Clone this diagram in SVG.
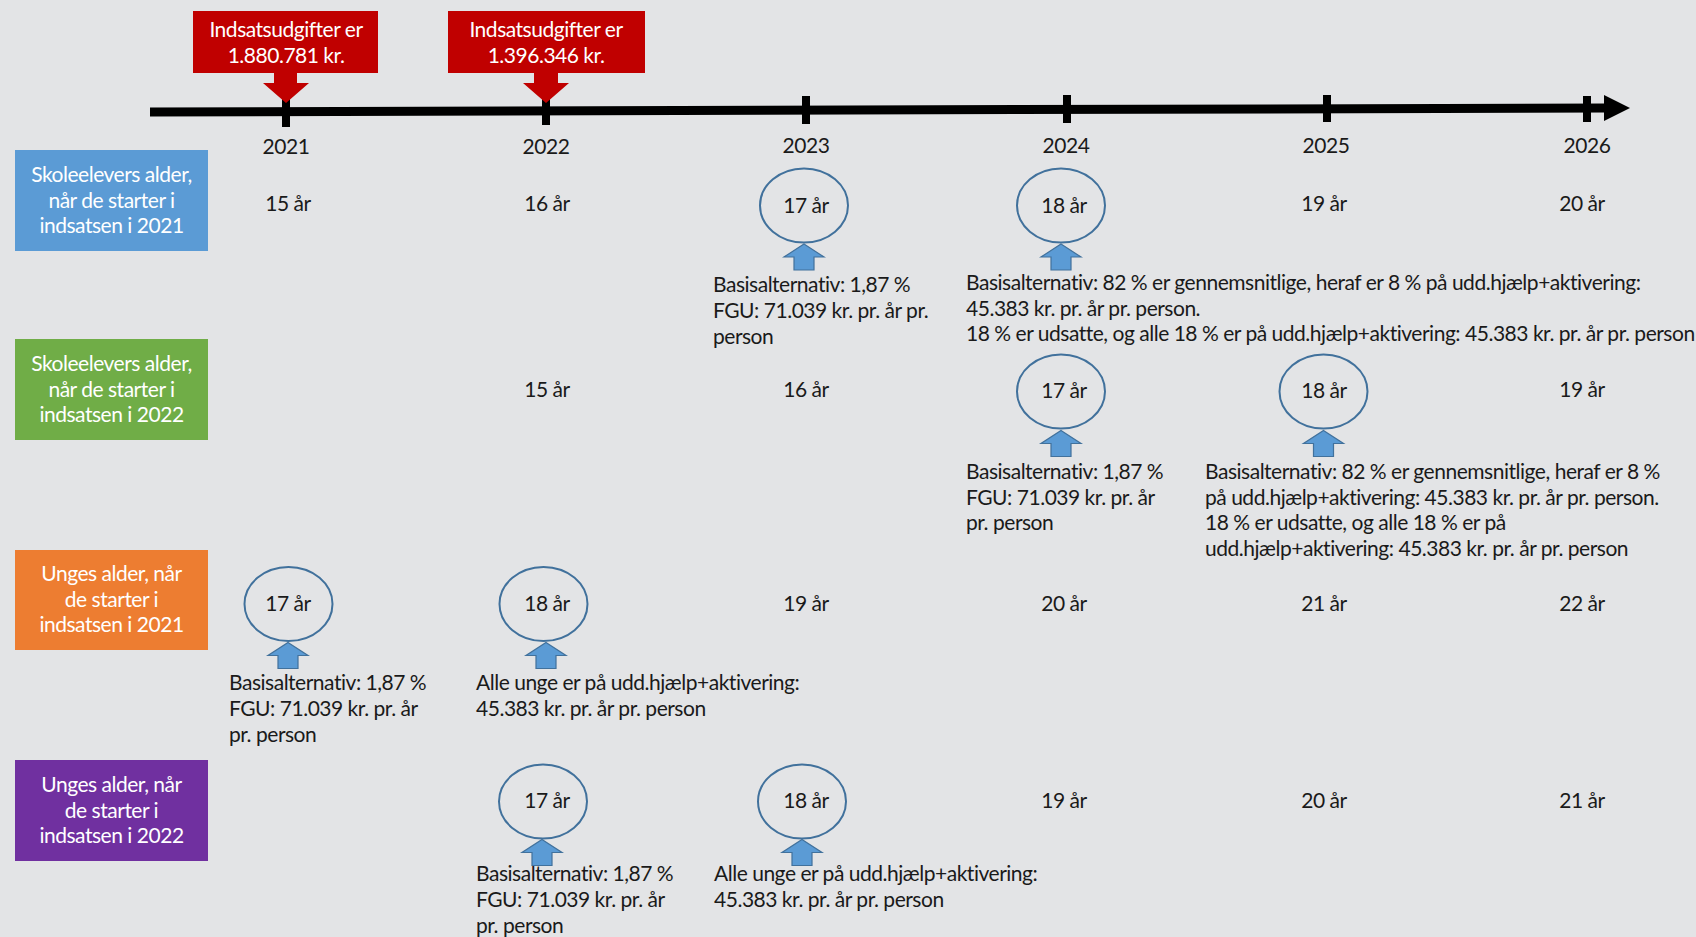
<svg xmlns="http://www.w3.org/2000/svg" width="1696" height="937" viewBox="0 0 1696 937">
  <defs>
    <style>
      .t { font-family: Lato, "Liberation Sans", sans-serif; font-size: 21px; letter-spacing: -0.48px; fill: #1a1a1a; }
      .c { text-anchor: middle; }
      .w { fill: #ffffff; }
      .ring { fill: none; stroke: #41719C; stroke-width: 2; }
      .up { fill: #5B9BD5; stroke: #41719C; stroke-width: 1.2; }
      .call { fill: #C00000; }
    </style>
    <path id="uparrow" class="up" d="M0,0 L20,13 L10,13 L10,26 L-10,26 L-10,13 L-20,13 Z"/>
  </defs>

  <rect width="1696" height="937" fill="#E3E4E6"/>

  <!-- time axis -->
  <g id="axis">
    <line x1="150" y1="112" x2="1606" y2="108" stroke="#000" stroke-width="9"/>
    <polygon points="1604,95 1630,108 1604,121" fill="#000"/>
    <rect x="282" y="96" width="8" height="31" fill="#000"/>
    <rect x="542" y="96" width="8" height="29" fill="#000"/>
    <rect x="802" y="96" width="8" height="28" fill="#000"/>
    <rect x="1063" y="95" width="8" height="28" fill="#000"/>
    <rect x="1323" y="95" width="8" height="27" fill="#000"/>
    <rect x="1583" y="96" width="8" height="26" fill="#000"/>
    <g class="t c">
      <text x="286" y="154">2021</text>
      <text x="546" y="154">2022</text>
      <text x="806" y="153">2023</text>
      <text x="1066" y="153">2024</text>
      <text x="1326" y="153">2025</text>
      <text x="1587" y="153">2026</text>
    </g>
  </g>

  <!-- cost callouts -->
  <g id="callout-2021">
    <path class="call" d="M193,11 H378 V73 H297 V83 H309 L286,103 L263,83 H274 V73 H193 Z"/>
    <text class="t c w" x="286" y="37">Indsatsudgifter er</text>
    <text class="t c w" x="286" y="63">1.880.781 kr.</text>
  </g>
  <g id="callout-2022">
    <path class="call" d="M448,11 H645 V73 H558 V83 H569 L546,103 L523,83 H534 V73 H448 Z"/>
    <text class="t c w" x="546" y="37">Indsatsudgifter er</text>
    <text class="t c w" x="546" y="63">1.396.346 kr.</text>
  </g>

  <!-- row labels -->
  <g id="label-skole-2021">
    <rect x="15" y="150" width="193" height="101" fill="#5B9BD5"/>
    <text class="t c w" x="111.5" y="182">Skoleelevers alder,</text>
    <text class="t c w" x="111.5" y="208">når de starter i</text>
    <text class="t c w" x="111.5" y="233">indsatsen i 2021</text>
  </g>
  <g id="label-skole-2022">
    <rect x="15" y="339" width="193" height="101" fill="#70AD47"/>
    <text class="t c w" x="111.5" y="371">Skoleelevers alder,</text>
    <text class="t c w" x="111.5" y="397">når de starter i</text>
    <text class="t c w" x="111.5" y="422">indsatsen i 2022</text>
  </g>
  <g id="label-unge-2021">
    <rect x="15" y="550" width="193" height="100" fill="#ED7D31"/>
    <text class="t c w" x="111.5" y="581">Unges alder, når</text>
    <text class="t c w" x="111.5" y="607">de starter i</text>
    <text class="t c w" x="111.5" y="632">indsatsen i 2021</text>
  </g>
  <g id="label-unge-2022">
    <rect x="15" y="760" width="193" height="101" fill="#7030A0"/>
    <text class="t c w" x="111.5" y="792">Unges alder, når</text>
    <text class="t c w" x="111.5" y="818">de starter i</text>
    <text class="t c w" x="111.5" y="843">indsatsen i 2022</text>
  </g>

  <!-- row 1: pupils starting 2021 -->
  <g id="row-skole-2021" class="t c">
    <text x="288" y="211">15 år</text>
    <text x="547" y="211">16 år</text>
    <text x="1324" y="211">19 år</text>
    <text x="1582" y="211">20 år</text>
  </g>
  <g id="age-skole21-17">
    <ellipse class="ring" cx="804" cy="205.5" rx="44" ry="37"/>
    <text class="t c" x="806" y="213">17 år</text>
  </g>
  <g id="age-skole21-18">
    <ellipse class="ring" cx="1061" cy="205.5" rx="44" ry="37"/>
    <text class="t c" x="1064" y="213">18 år</text>
  </g>
  <g id="note-skole21-17" class="t">
    <text x="713" y="292">Basisalternativ: 1,87 %</text>
    <text x="713" y="318">FGU: 71.039 kr. pr. år pr.</text>
    <text x="713" y="344">person</text>
  </g>
  <g id="note-skole21-18" class="t">
    <text x="966" y="290">Basisalternativ: 82 % er gennemsnitlige, heraf er 8 % på udd.hjælp+aktivering:</text>
    <text x="966" y="316">45.383 kr. pr. år pr. person.</text>
    <text x="966" y="341">18 % er udsatte, og alle 18 % er på udd.hjælp+aktivering: 45.383 kr. pr. år pr. person</text>
  </g>

  <!-- row 2: pupils starting 2022 -->
  <g id="row-skole-2022" class="t c">
    <text x="547" y="397">15 år</text>
    <text x="806" y="397">16 år</text>
    <text x="1582" y="397">19 år</text>
  </g>
  <g id="age-skole22-17">
    <ellipse class="ring" cx="1061" cy="391.5" rx="44" ry="37"/>
    <text class="t c" x="1064" y="398">17 år</text>
  </g>
  <g id="age-skole22-18">
    <ellipse class="ring" cx="1323.5" cy="391.5" rx="44" ry="37"/>
    <text class="t c" x="1324" y="398">18 år</text>
  </g>
  <g id="note-skole22-17" class="t">
    <text x="966" y="479">Basisalternativ: 1,87 %</text>
    <text x="966" y="505">FGU: 71.039 kr. pr. år</text>
    <text x="966" y="530">pr. person</text>
  </g>
  <g id="note-skole22-18" class="t">
    <text x="1205" y="479">Basisalternativ: 82 % er gennemsnitlige, heraf er 8 %</text>
    <text x="1205" y="505">på udd.hjælp+aktivering: 45.383 kr. pr. år pr. person.</text>
    <text x="1205" y="530">18 % er udsatte, og alle 18 % er på</text>
    <text x="1205" y="556">udd.hjælp+aktivering: 45.383 kr. pr. år pr. person</text>
  </g>

  <!-- row 3: young people starting 2021 -->
  <g id="row-unge-2021" class="t c">
    <text x="806" y="611">19 år</text>
    <text x="1064" y="611">20 år</text>
    <text x="1324" y="611">21 år</text>
    <text x="1582" y="611">22 år</text>
  </g>
  <g id="age-unge21-17">
    <ellipse class="ring" cx="288.5" cy="604" rx="44" ry="37"/>
    <text class="t c" x="288" y="611">17 år</text>
  </g>
  <g id="age-unge21-18">
    <ellipse class="ring" cx="543.5" cy="604" rx="44" ry="37"/>
    <text class="t c" x="547" y="611">18 år</text>
  </g>
  <g id="note-unge21-17" class="t">
    <text x="229" y="690">Basisalternativ: 1,87 %</text>
    <text x="229" y="716">FGU: 71.039 kr. pr. år</text>
    <text x="229" y="742">pr. person</text>
  </g>
  <g id="note-unge21-18" class="t">
    <text x="476" y="690">Alle unge er på udd.hjælp+aktivering:</text>
    <text x="476" y="716">45.383 kr. pr. år pr. person</text>
  </g>

  <!-- row 4: young people starting 2022 -->
  <g id="row-unge-2022" class="t c">
    <text x="1064" y="808">19 år</text>
    <text x="1324" y="808">20 år</text>
    <text x="1582" y="808">21 år</text>
  </g>
  <g id="age-unge22-17">
    <ellipse class="ring" cx="543" cy="801.5" rx="44" ry="37"/>
    <text class="t c" x="547" y="808">17 år</text>
  </g>
  <g id="age-unge22-18">
    <ellipse class="ring" cx="802" cy="801.5" rx="44" ry="37"/>
    <text class="t c" x="806" y="808">18 år</text>
  </g>
  <g id="note-unge22-17" class="t">
    <text x="476" y="881">Basisalternativ: 1,87 %</text>
    <text x="476" y="907">FGU: 71.039 kr. pr. år</text>
    <text x="476" y="933">pr. person</text>
  </g>
  <g id="note-unge22-18" class="t">
    <text x="714" y="881">Alle unge er på udd.hjælp+aktivering:</text>
    <text x="714" y="907">45.383 kr. pr. år pr. person</text>
  </g>

  <!-- pointer arrows from notes to ages -->
  <g id="connectors">
    <use href="#uparrow" x="804" y="244"/>
    <use href="#uparrow" x="1061" y="244"/>
    <use href="#uparrow" x="1061" y="430.5"/>
    <use href="#uparrow" x="1323.5" y="430.5"/>
    <use href="#uparrow" x="288" y="642.5"/>
    <use href="#uparrow" x="546" y="642.5"/>
    <use href="#uparrow" x="542" y="839.5"/>
    <use href="#uparrow" x="802" y="839.5"/>
  </g>
</svg>
